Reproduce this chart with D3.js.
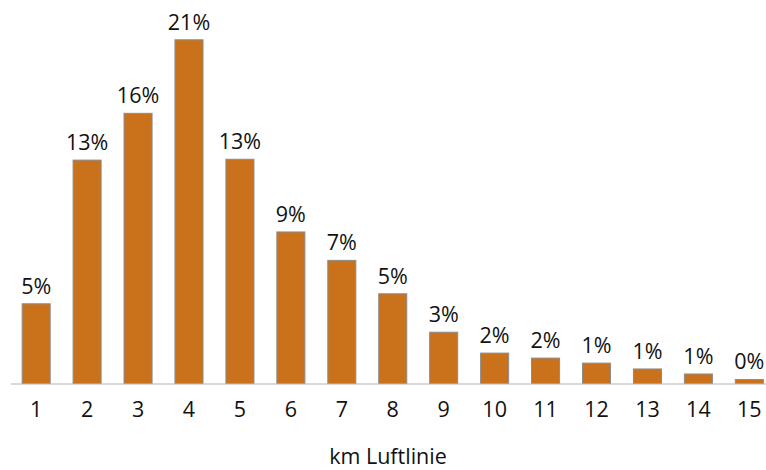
<!DOCTYPE html>
<html>
<head>
<meta charset="utf-8">
<script src="https://cdn.jsdelivr.net/npm/d3@7"></script>
<style>
  body { margin: 0; background: #fff; }
  svg text { font-family: "Open Sans", sans-serif; fill: #111; }
</style>
</head>
<body>
<div id="chart"></div>
<script>
// km Luftlinie distribution (share in %)
const categories = ["1","2","3","4","5","6","7","8","9","10","11","12","13","14","15"];
const shares = [4.8, 13.4, 16.2, 20.6, 13.45, 9.1, 7.4, 5.4, 3.1, 1.85, 1.55, 1.25, 0.9, 0.6, 0.27];
const axisTitle = "km Luftlinie";

const width = 766, height = 470;
const baseY = 383.5, topY = 39.3;

const svg = d3.select("#chart").append("svg")
    .attr("width", width).attr("height", height);

const x = d3.scaleBand()
    .domain(categories)
    .range([10.7, 774.8])
    .paddingInner(0.43)
    .paddingOuter(0.215);

const y = d3.scaleLinear()
    .domain([0, 20.6])
    .range([baseY, topY]);

const data = categories.map((c, i) => ({cat: c, v: shares[i]}));

svg.selectAll("rect.bar")
    .data(data)
    .join("rect")
    .attr("class", "bar")
    .attr("x", d => x(d.cat) + 0.5)
    .attr("y", d => y(d.v) + 0.5)
    .attr("width", x.bandwidth() - 1)
    .attr("height", d => baseY - y(d.v) - 0.5)
    .attr("fill", "#C9711B")
    .attr("stroke", "#8c8c8c")
    .attr("stroke-width", 1);

// baseline
svg.append("line")
    .attr("x1", 11).attr("x2", width)
    .attr("y1", baseY + 0.5).attr("y2", baseY + 0.5)
    .attr("stroke", "#b3b3b3")
    .attr("stroke-width", 1.2);

// value labels
svg.selectAll("text.val")
    .data(data)
    .join("text")
    .attr("class", "val")
    .attr("x", d => x(d.cat) + x.bandwidth() / 2)
    .attr("y", d => y(d.v) - 9.5)
    .attr("text-anchor", "middle")
    .style("font-size", "21.5px")
    .text(d => Math.round(d.v) + "%");

// category labels
const xAxis = svg.append("g")
    .attr("transform", `translate(0,${baseY})`)
    .call(d3.axisBottom(x).tickSize(0).tickPadding(0));
xAxis.select(".domain").remove();
xAxis.selectAll("text")
    .attr("y", 33)
    .attr("dy", 0)
    .style("font-size", "21.5px")
    .style("font-family", "'Open Sans', sans-serif")
    .attr("fill", "#111");

svg.append("text")
    .attr("x", 388)
    .attr("y", 464)
    .attr("text-anchor", "middle")
    .style("font-size", "21.5px")
    .text(axisTitle);
</script>
</body>
</html>
